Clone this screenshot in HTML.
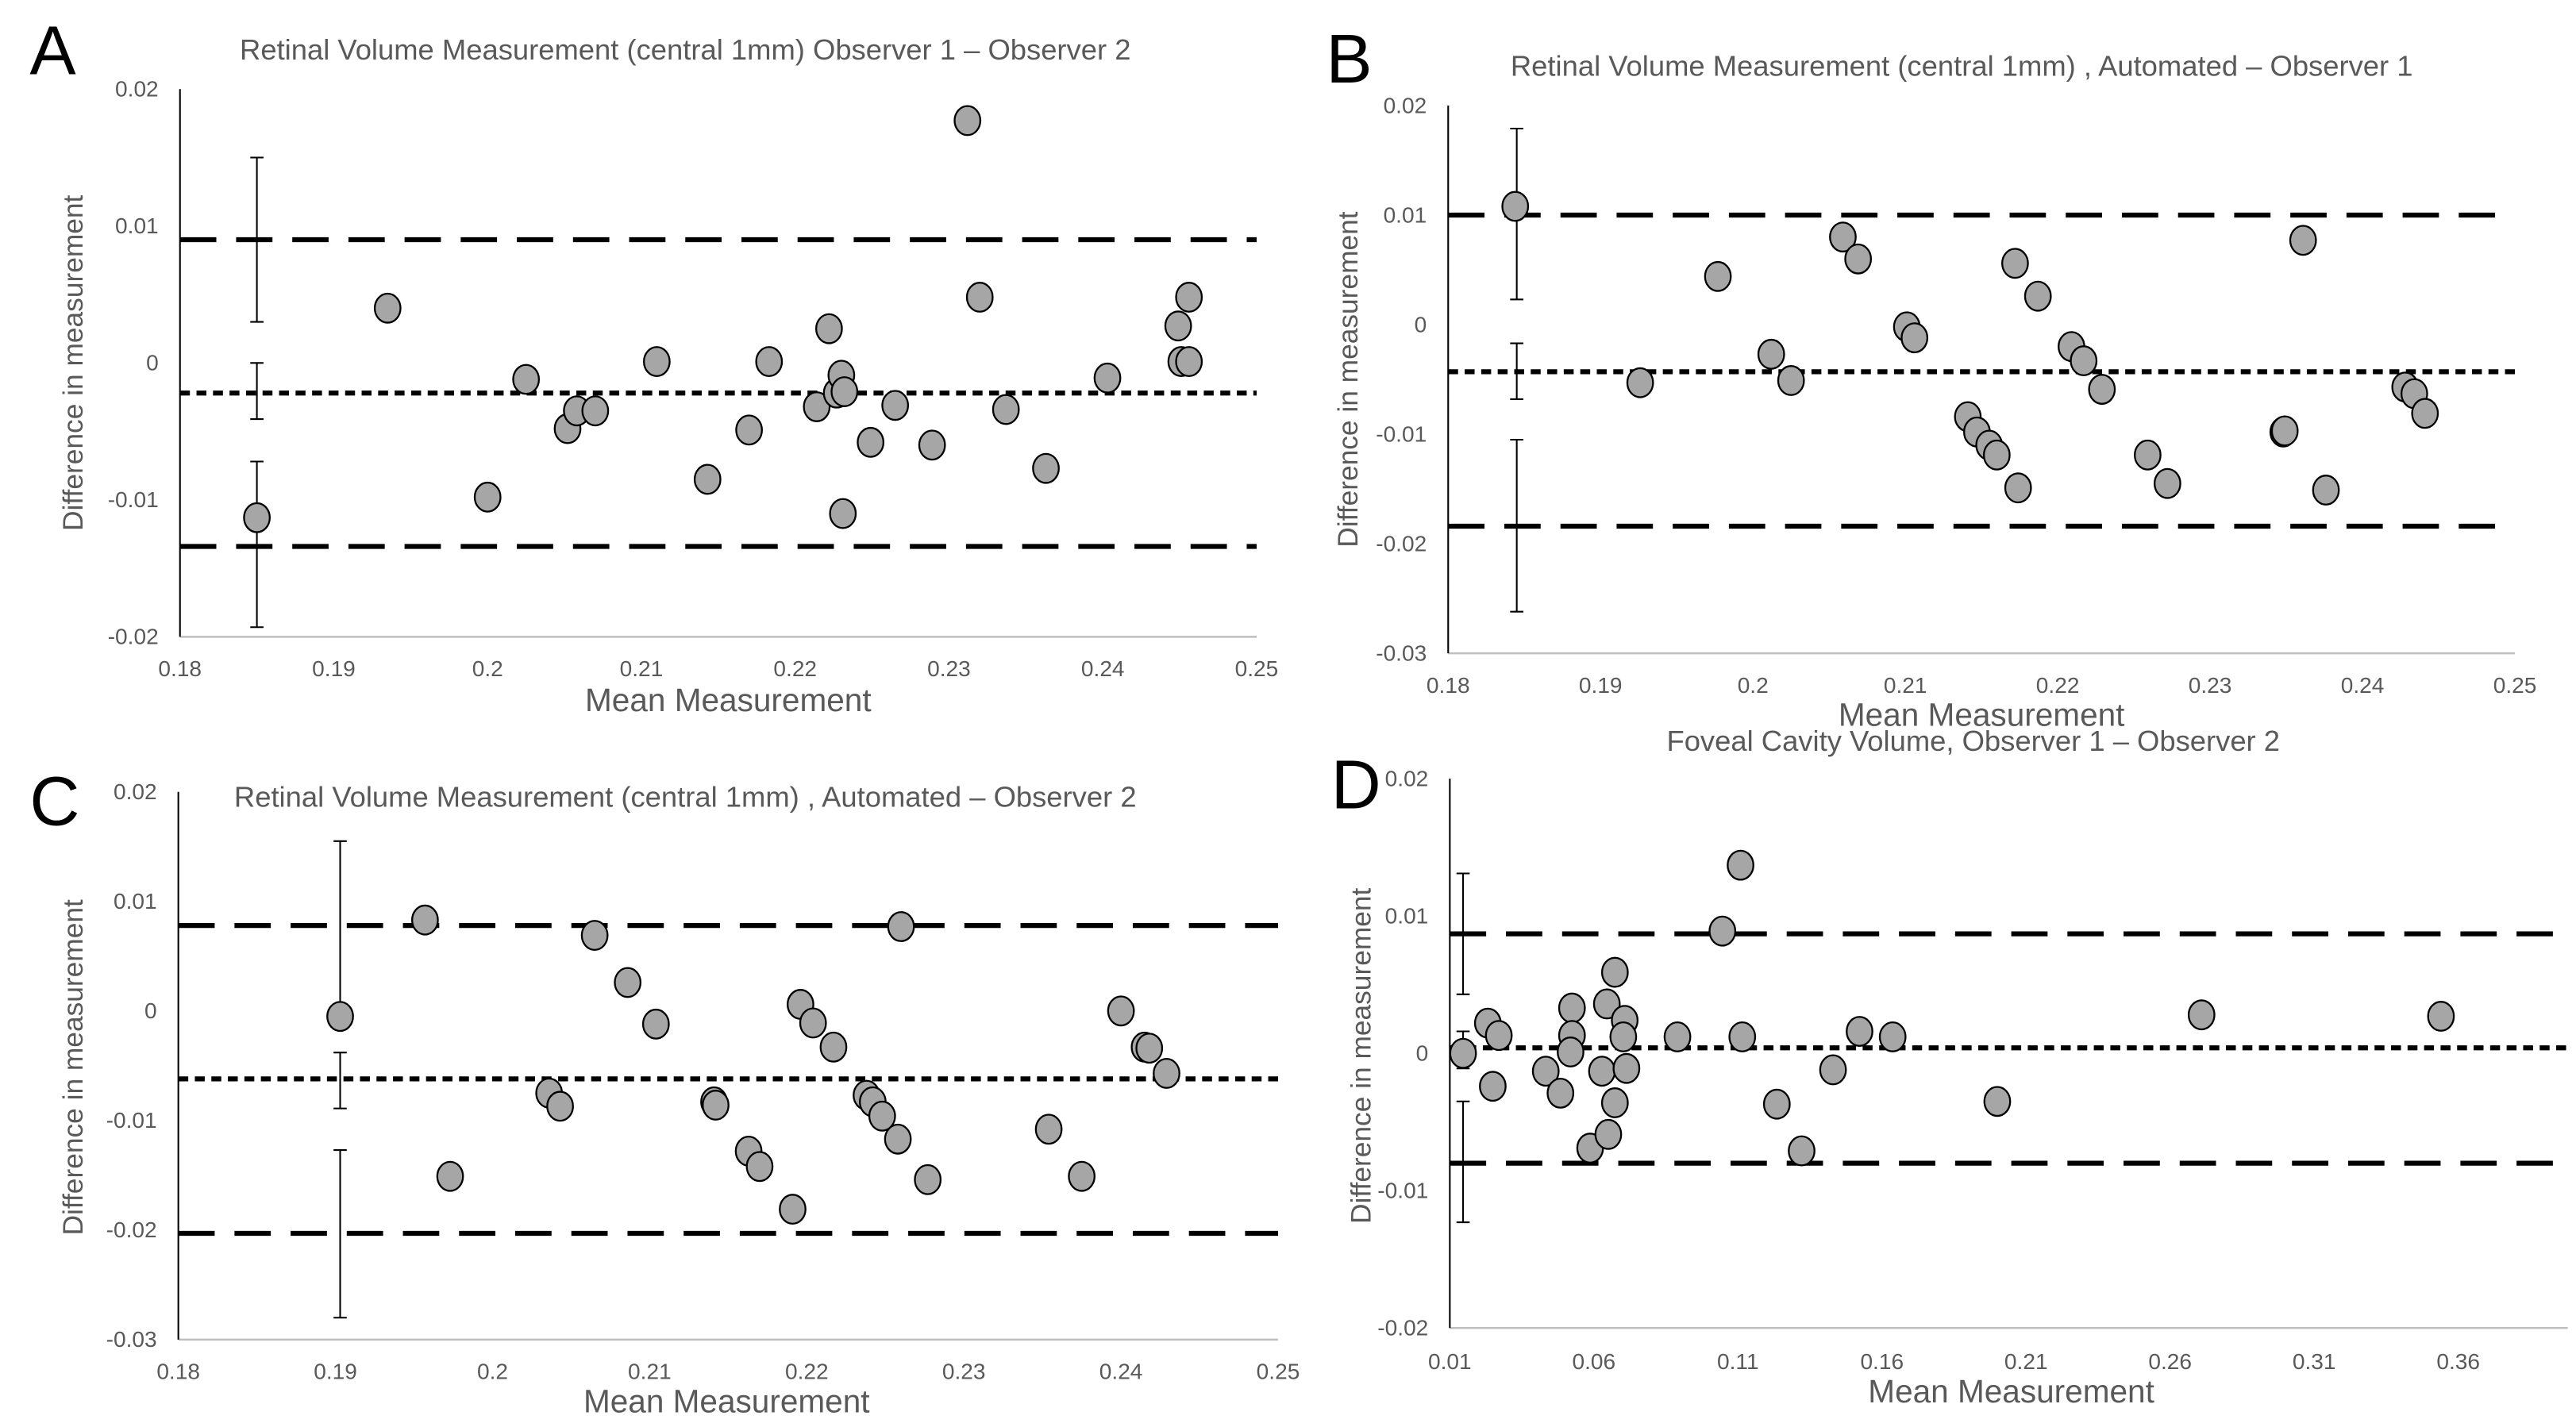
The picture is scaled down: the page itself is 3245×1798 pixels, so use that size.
<!DOCTYPE html>
<html><head><meta charset="utf-8"><style>
html,body{margin:0;padding:0;background:#fff;}
svg{display:block;font-family:"Liberation Sans",sans-serif;}
</style></head><body>
<svg id="fig" width="3245" height="1798" viewBox="0 0 1560 865" preserveAspectRatio="none" xmlns="http://www.w3.org/2000/svg">
<text x="18" y="45" font-size="42" fill="#000">A</text>
<text x="803" y="50" font-size="42" fill="#000">B</text>
<text x="18" y="500" font-size="42" fill="#000">C</text>
<text x="806" y="490" font-size="42" fill="#000">D</text>
</svg>
<script>
// Panel A data
const aX=[0.185,0.1935,0.2,0.2025,0.2052,0.2058,0.207,0.211,0.2143,0.217,0.2183,0.2214,0.2222,0.2227,0.223,0.2232,0.2231,0.2249,0.2265,0.2289,0.2312,0.232,0.2337,0.2363,0.2403,0.2449,0.2451,0.2456,0.2456];
const aY=[-0.0113,0.004,-0.0098,-0.0012,-0.0048,-0.0035,-0.0035,0.0001,-0.0085,-0.0049,0.0001,-0.0032,0.0025,-0.0022,-0.0009,-0.0021,-0.011,-0.0058,-0.0031,-0.006,0.0177,0.0048,-0.0034,-0.0077,-0.0011,0.0027,0.0001,0.0048,0.0001];
const aLimits=[0.009,-0.0022,-0.0134];
const aErrLow=[0.003,-0.0041,-0.0193];
const aErrHigh=[0.015,0.0,-0.0072];
// Panel B data
const bX=[0.1844,0.1926,0.1977,0.2012,0.2025,0.2059,0.2069,0.2101,0.2106,0.2141,0.2147,0.2155,0.216,0.2172,0.2174,0.2187,0.2209,0.2217,0.2229,0.2259,0.2272,0.2348,0.2349,0.2361,0.2376,0.2428,0.2434,0.2441];
const bY=[0.0108,-0.0053,0.0044,-0.0027,-0.0051,0.008,0.006,-0.0002,-0.0012,-0.0084,-0.0098,-0.011,-0.0119,0.0056,-0.0149,0.0026,-0.002,-0.0033,-0.0059,-0.0119,-0.0145,-0.0098,-0.0097,0.0077,-0.0151,-0.0057,-0.0063,-0.0081];
const bLimits=[0.0100,-0.0043,-0.0184];
const bErrLow=[0.0023,-0.0068,-0.0262];
const bErrHigh=[0.0179,-0.0017,-0.0105];
// Panel C data
const cX=[0.1903,0.1957,0.1973,0.2036,0.2043,0.2065,0.2086,0.2104,0.2141,0.2142,0.2163,0.217,0.2191,0.2196,0.2204,0.2217,0.2238,0.2242,0.2248,0.2258,0.226,0.2277,0.2354,0.2375,0.24,0.2415,0.2418,0.2429];
const cY=[-0.0005,0.0083,-0.0151,-0.0075,-0.0087,0.0069,0.0026,-0.0012,-0.0083,-0.0086,-0.0128,-0.0142,-0.0181,0.0006,-0.0011,-0.0033,-0.0077,-0.0083,-0.0096,-0.0117,0.0077,-0.0154,-0.0108,-0.0151,0.0,-0.0033,-0.0034,-0.0057];
const cLimits=[0.0078,-0.0062,-0.0203];
const cErrLow=[-0.0005,-0.0089,-0.028];
const cErrHigh=[0.0155,-0.0038,-0.0127];
// Panel D data
const dX=[0.0146,0.0232,0.027,0.0249,0.0433,0.0484,0.0524,0.0524,0.0519,0.0587,0.0628,0.0645,0.065,0.0673,0.0673,0.0707,0.0702,0.0713,0.089,0.1046,0.1109,0.1115,0.1235,0.1321,0.143,0.1522,0.1637,0.2,0.2709,0.354];
const dY=[0.0,0.0022,0.0013,-0.0024,-0.0013,-0.0029,0.0033,0.0013,0.0001,-0.0069,-0.0013,0.0036,-0.0059,0.0059,-0.0036,0.0024,0.0012,-0.0011,0.0012,0.0089,0.0137,0.0012,-0.0037,-0.0071,-0.0012,0.0016,0.0012,-0.0035,0.0028,0.0027];
const dLimits=[0.0087,0.0004,-0.008];
const dErrLow=[0.0043,-0.0011,-0.0123];
const dErrHigh=[0.0131,0.0016,-0.0035];
// tick labels
const abcXTicks=[0.18,0.19,0.2,0.21,0.22,0.23,0.24,0.25];
const abcXLabels=["0.18","0.19","0.2","0.21","0.22","0.23","0.24","0.25"];
const dXTicks=[0.01,0.06,0.11,0.16,0.21,0.26,0.31,0.36];
const dXLabels=["0.01","0.06","0.11","0.16","0.21","0.26","0.31","0.36"];
const adYTicks=[0.02,0.01,0,-0.01,-0.02];
const adYLabels=["0.02","0.01","0","-0.01","-0.02"];
const bcYTicks=[0.02,0.01,0,-0.01,-0.02,-0.03];
const bcYLabels=["0.02","0.01","0","-0.01","-0.02","-0.03"];

const NS="http://www.w3.org/2000/svg";
const svg=document.getElementById('fig');
function mk(tag,attrs,parent){const e=document.createElementNS(NS,tag);for(const k in attrs)e.setAttribute(k,attrs[k]);(parent||svg).appendChild(e);return e;}

const panels=[
 {id:'a',X:aX,Y:aY,L:aLimits,EL:aErrLow,EH:aErrHigh,errX:0.185,px0:109,px1:761,xmin:0.18,xmax:0.25,py0:54,py1:386,ymax:0.02,ymin:-0.02,xt:abcXTicks,xl:abcXLabels,yt:adYTicks,yl:adYLabels,
  title:"Retinal Volume Measurement (central 1mm) Observer 1 – Observer 2",tx:415,ty:36,xlY:410,xtY:431,xtX:441,ytX:50,ytY:220},
 {id:'b',X:bX,Y:bY,L:bLimits,EL:bErrLow,EH:bErrHigh,errX:0.1845,px0:877,px1:1523,xmin:0.18,xmax:0.25,py0:64,py1:396,ymax:0.02,ymin:-0.03,xt:abcXTicks,xl:abcXLabels,yt:bcYTicks,yl:bcYLabels,
  title:"Retinal Volume Measurement (central 1mm) , Automated – Observer 1",tx:1188,ty:46,xlY:420,xtY:440,xtX:1200,ytX:822,ytY:230},
 {id:'c',X:cX,Y:cY,L:cLimits,EL:cErrLow,EH:cErrHigh,errX:0.1903,px0:108,px1:774,xmin:0.18,xmax:0.25,py0:480,py1:812,ymax:0.02,ymin:-0.03,xt:abcXTicks,xl:abcXLabels,yt:bcYTicks,yl:bcYLabels,
  title:"Retinal Volume Measurement (central 1mm) , Automated – Observer 2",tx:415,ty:489,xlY:836,xtY:856,xtX:440,ytX:50,ytY:647},
 {id:'d',X:dX,Y:dY,L:dLimits,EL:dErrLow,EH:dErrHigh,errX:0.0146,px0:878,px1:1555,xmin:0.01,xmax:0.398,py0:472,py1:805,ymax:0.02,ymin:-0.02,xt:dXTicks,xl:dXLabels,yt:adYTicks,yl:adYLabels,
  title:"Foveal Cavity Volume, Observer 1 – Observer 2",tx:1195,ty:455,xlY:830,xtY:850,xtX:1218,ytX:830,ytY:640}
];

panels.forEach(p=>{
 const g=mk('g',{});
 
 
 const sx=v=>p.px0+(v-p.xmin)/(p.xmax-p.xmin)*(p.px1-p.px0);
 const sy=v=>p.py0+(p.ymax-v)/(p.ymax-p.ymin)*(p.py1-p.py0);
 const t=mk('text',{x:p.tx,y:p.ty,'text-anchor':'middle','font-size':17.5,fill:'#595959'},g);t.textContent=p.title;
 
 
 const xa=mk('line',{x1:p.px0,x2:p.px1,y1:p.py1,y2:p.py1,stroke:'#bfbfbf','stroke-width':1.2},g);
 
 
 const ya=mk('line',{x1:p.px0,x2:p.px0,y1:p.py0,y2:p.py1,stroke:'#000','stroke-width':1},g);
 
 
 p.xt.forEach((v,i)=>{const e=mk('text',{x:sx(v),y:p.xlY,'text-anchor':'middle','font-size':13.5,fill:'#595959'},g);e.textContent=p.xl[i];
  
  });
 p.yt.forEach((v,i)=>{const e=mk('text',{x:p.px0-13,y:sy(v)+4.5,'text-anchor':'end','font-size':13.5,fill:'#595959'},g);e.textContent=p.yl[i];
  
  });
 const xt=mk('text',{x:p.xtX,y:p.xtY,'text-anchor':'middle','font-size':19.5,fill:'#595959'},g);xt.textContent='Mean Measurement';
 
 
 const yt=mk('text',{x:0,y:0,'text-anchor':'middle','font-size':17,fill:'#595959',transform:`translate(${p.ytX},${p.ytY}) rotate(-90)`},g);yt.textContent='Difference in measurement';
 
 
 p.L.forEach((v,i)=>{const dash=i===1?'6 4':'22 12';
  const l=mk('line',{x1:p.px0,x2:p.px1,y1:sy(v),y2:sy(v),stroke:'#000','stroke-width':3,'stroke-dasharray':dash},g);
  
  });
 p.EL.forEach((lo,i)=>{const hi=p.EH[i];const x=sx(p.errX);
  const eg=mk('g',{stroke:'#000','stroke-width':1},g);
  
  
  mk('line',{x1:x,x2:x,y1:sy(hi),y2:sy(lo)},eg);
  mk('line',{x1:x-4,x2:x+4,y1:sy(hi),y2:sy(hi)},eg);
  mk('line',{x1:x-4,x2:x+4,y1:sy(lo),y2:sy(lo)},eg);});
 p.X.forEach((v,i)=>{const e=mk('ellipse',{cx:sx(v),cy:sy(p.Y[i]),rx:7.8,ry:8.8,fill:'#a6a6a6',stroke:'#000','stroke-width':1.1},g);
  
  });
});
</script>
</body></html>
